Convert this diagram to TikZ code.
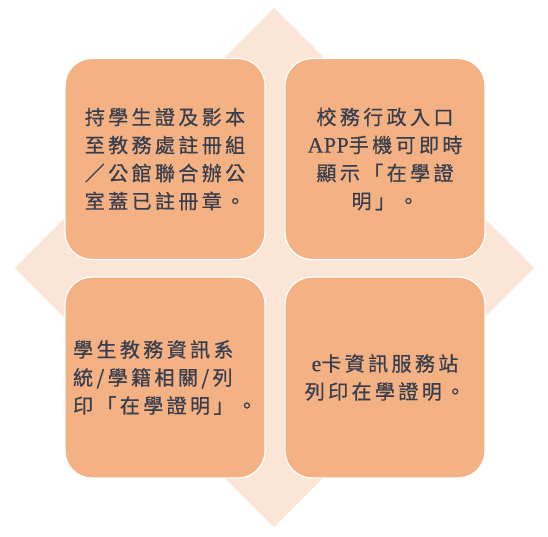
\documentclass[tikz,border=0pt]{standalone}
\usepackage{fontspec}
\setmainfont{Noto Sans CJK TC}[LetterSpace=17, FakeBold=0.6]
\newfontfamily\latfont{Liberation Serif}[LetterSpace=2, FakeBold=0.4]
\definecolor{diamondfill}{RGB}{251,229,214}
\definecolor{boxfill}{RGB}{244,177,131}
\definecolor{textcol}{RGB}{55,62,78}
\tikzset{
  box/.style={rectangle, rounded corners=27pt, fill=boxfill, draw=white,
    line width=1.2pt, minimum width=200pt, minimum height=201pt, inner sep=0pt,
    text=textcol, font=\fontsize{20}{28}\selectfont, align=center},
  backdrop/.style={fill=diamondfill, draw=none}
}
\begin{document}
\begin{tikzpicture}[x=1pt,y=-1pt]
\useasboundingbox (0,0) rectangle (548,537);
\coordinate (dt) at (274,8);
\coordinate (dr) at (534,268);
\coordinate (db) at (274,527);
\coordinate (dl) at (15,268);
\fill[backdrop] (dt) -- (dr) -- (db) -- (dl) -- cycle;
\node[box] (b1) at (165,159) {持學生證及影本\\至教務處註冊組\\／公館聯合辦公\\室蓋已註冊章。};
\node[box] (b2) at (385,159) {校務行政入口\\{\latfont\fontsize{22}{28}\selectfont APP}手機可即時\\顯示「在學證\\明」。};
\node[box, align=left] (b3) at (165,377.5) {學生教務資訊系\\統/學籍相關/列\\印「在學證明」。};
\node[box] (b4) at (385,377.5) {{\latfont\fontsize{22}{28}\selectfont e}卡資訊服務站\\列印在學證明。};
\end{tikzpicture}
\end{document}
